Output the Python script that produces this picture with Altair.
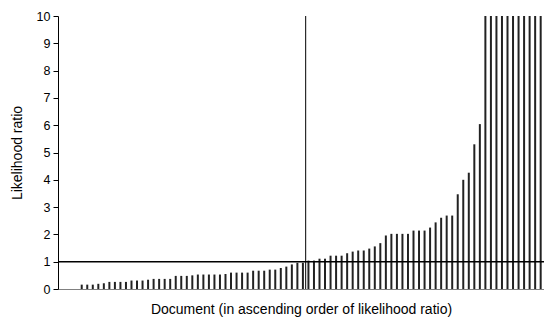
import altair as alt
import pandas as pd

values = [
    0.16, 0.16, 0.16, 0.19, 0.21, 0.26, 0.26, 0.26, 0.26, 0.31,
    0.31, 0.31, 0.34, 0.37, 0.37, 0.37, 0.37, 0.48, 0.48, 0.48,
    0.50, 0.53, 0.53, 0.53, 0.53, 0.53, 0.55, 0.60, 0.60, 0.60,
    0.60, 0.67, 0.67, 0.67, 0.71, 0.71, 0.77, 0.82, 0.90, 0.96,
    0.96,
    1.04, 1.04, 1.11, 1.11, 1.22, 1.22, 1.22, 1.31, 1.37, 1.41,
    1.41, 1.48, 1.56, 1.68, 1.96, 2.02, 2.02, 2.02, 2.02, 2.14,
    2.14, 2.14, 2.25, 2.44, 2.61, 2.69, 2.69, 3.47, 4.00, 4.26,
    5.30, 6.04, 10, 10, 10, 10, 10, 10, 10, 10, 10, 10, 10,
]
docs = list(range(1, len(values) + 1))
y_ticks = list(range(0, 11))
threshold = [1]
split_doc = [41.5]

df = pd.DataFrame({"doc": docs, "lr": values})

FONT = "Liberation Sans"

xscale = alt.Scale(domain=[-3.29, 84.6], nice=False, zero=False, padding=0)
yscale = alt.Scale(domain=[0, 10], nice=False, padding=0)

bars = alt.Chart(df).mark_bar(size=2, color="#222222", clip=True).encode(
    x=alt.X("doc:Q", scale=xscale,
            axis=alt.Axis(title="Document (in ascending order of likelihood ratio)",
                          labels=False, ticks=False, grid=False,
                          domainColor="#808080", domainWidth=1,
                          titleFont=FONT, titleFontSize=14, titleFontWeight="normal",
                          titleColor="black", titlePadding=13)),
    y=alt.Y("lr:Q", scale=yscale,
            axis=alt.Axis(title="Likelihood ratio", values=y_ticks, tickCount=11,
                          labelOverlap=False, grid=False,
                          tickSize=5, tickColor="black", domainColor="black",
                          labelPadding=3, labelFont=FONT, labelFontSize=12.5,
                          labelColor="black", titleFont=FONT, titleFontSize=14,
                          titleFontWeight="normal", titleColor="black",
                          titlePadding=12)),
)

hline = alt.Chart(pd.DataFrame({"y": threshold})).mark_rule(
    color="black", strokeWidth=1.5).encode(y=alt.Y("y:Q", scale=yscale))

vline = alt.Chart(pd.DataFrame({"x": split_doc})).mark_rule(
    color="black", strokeWidth=1).encode(x=alt.X("x:Q", scale=xscale))

chart = alt.layer(bars, hline, vline).properties(
    width=486, height=273,
    autosize=alt.AutoSizeParams(type="none"),
    padding={"left": 50, "top": 8, "right": 0, "bottom": 30},
).configure_view(stroke=None)

chart.save("out.html", embed_options={"renderer": "svg", "actions": False})
